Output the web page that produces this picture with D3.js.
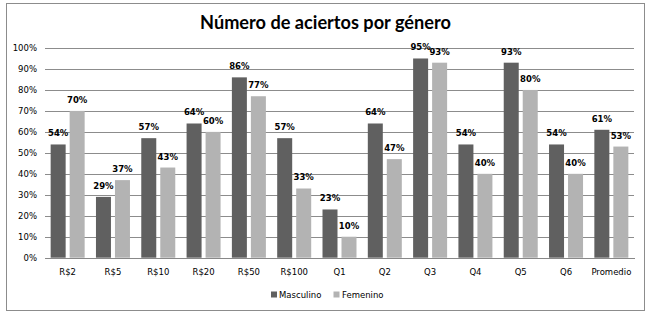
<!DOCTYPE html>
<html>
<head>
<meta charset="utf-8">
<script src="https://cdn.jsdelivr.net/npm/d3@7"></script>
<style>
  html, body { margin: 0; padding: 0; background: #fff; }
  svg { display: block; }
</style>
</head>
<body>
<svg id="chart" width="650" height="317"></svg>
<script>
const categories = ["R$2", "R$5", "R$10", "R$20", "R$50", "R$100", "Q1", "Q2", "Q3", "Q4", "Q5", "Q6", "Promedio"];
const masculino = [54, 29, 57, 64, 86, 57, 23, 64, 95, 54, 93, 54, 61];
const femenino  = [70, 37, 43, 60, 77, 33, 10, 47, 93, 40, 80, 40, 53];
const seriesNames = ["Masculino", "Femenino"];
const seriesColors = ["#606060", "#b3b3b3"];
const yTicks = [0, 10, 20, 30, 40, 50, 60, 70, 80, 90, 100];
const titleText = "Número de aciertos por género";

const svg = d3.select("#chart");
const font = "'DejaVu Sans', Verdana, sans-serif";

// outer border
svg.append("rect").attr("x", 6.5).attr("y", 3.5).attr("width", 638).attr("height", 307)
  .attr("fill", "#fff").attr("stroke", "#8c8c8c").attr("stroke-width", 1);

const plot = { left: 45, right: 634, top: 48, bottom: 257.7 };

const x = d3.scaleBand().domain(categories).range([plot.left, plot.right]).padding(0);
const y = d3.scaleLinear().domain([0, 100]).range([plot.bottom, plot.top]);

// gridlines
const yAxis = d3.axisLeft(y).tickValues(yTicks).tickSize(-(plot.right - plot.left)).tickPadding(8)
  .tickFormat(d => d + "%");
const gy = svg.append("g").attr("transform", `translate(${plot.left},0)`).call(yAxis);
gy.select(".domain").remove();
gy.selectAll(".tick line").attr("stroke", "#8c8c8c").attr("stroke-width", 1)
  .attr("shape-rendering", "crispEdges");
gy.selectAll(".tick text").attr("font-family", font).attr("font-size", "8.5px").attr("fill", "#000")
  .attr("x", -8);

// bars
const barW = 15, gap = 4;
const data = categories.map((c, i) => ({ c, vals: [masculino[i], femenino[i]] }));
const groups = svg.append("g").selectAll("g").data(data).join("g");
groups.each(function(d) {
  const g = d3.select(this);
  const center = x(d.c) + x.bandwidth() / 2;
  d.vals.forEach((v, k) => {
    const bx = center - (barW + gap / 2) + k * (barW + gap);
    g.append("rect").attr("x", bx).attr("y", y(v)).attr("width", barW)
      .attr("height", y(0) - y(v)).attr("fill", seriesColors[k]);
    g.append("text").attr("x", bx + barW / 2).attr("y", y(v) - 8)
      .attr("text-anchor", "middle").attr("font-family", font).attr("font-weight", "bold")
      .attr("font-size", "8.5px").attr("fill", "#000").text(v + "%");
  });
});

// x axis
const xAxis = d3.axisBottom(x).tickSize(0).tickPadding(11);
const gx = svg.append("g").attr("transform", `translate(0,${plot.bottom})`).call(xAxis);
gx.select(".domain").attr("stroke", "#888").attr("shape-rendering", "crispEdges");
gx.selectAll(".tick text").attr("font-family", font).attr("font-size", "8.5px").attr("fill", "#000");

// title
const title = svg.append("text").attr("x", 325.5).attr("y", 29).attr("text-anchor", "middle")
  .attr("font-family", "Lato, 'Open Sans', sans-serif").attr("font-weight", "bold")
  .attr("font-size", "19px").attr("fill", "#000").text(titleText);
const tw = title.node().getComputedTextLength();
if (tw > 0) title.attr("font-size", (19 * 251 / tw).toFixed(2) + "px");

// legend
const legendItems = [{ x: 271, tx: 279 }, { x: 333.5, tx: 342 }];
seriesNames.forEach((n, k) => {
  svg.append("rect").attr("x", legendItems[k].x).attr("y", 291.5).attr("width", 6).attr("height", 6)
    .attr("fill", seriesColors[k]);
  svg.append("text").attr("x", legendItems[k].tx).attr("y", 297.5).attr("font-family", font)
    .attr("font-size", "8.5px").attr("fill", "#000").text(n);
});
</script>
</body>
</html>
